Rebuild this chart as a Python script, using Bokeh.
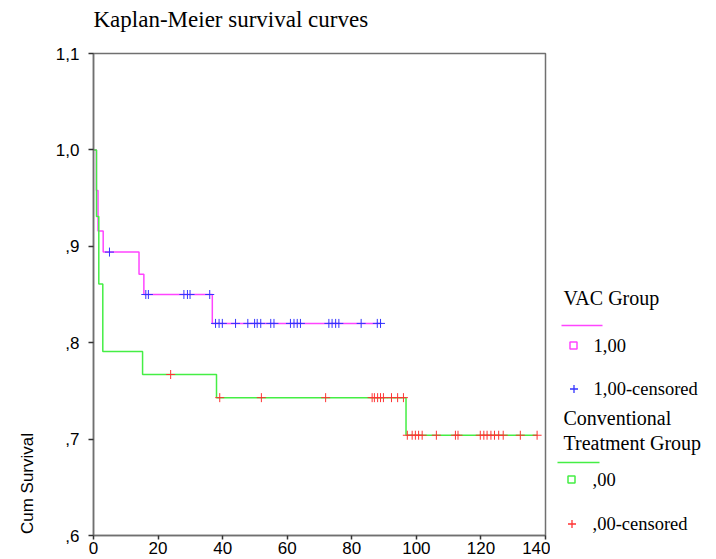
import numpy as np
from bokeh.plotting import figure
from bokeh.layouts import row
from bokeh.models import Range1d, FixedTicker, LinearAxis
from bokeh.core.properties import value
from bokeh.embed import file_html
from bokeh.resources import INLINE

# ---- data ----
vac_event_times = [0.0, 0.9, 1.4, 3.0, 14.1, 15.6, 36.8]
vac_survival = [1.0, 0.958, 0.916, 0.894, 0.871, 0.850, 0.820]
vac_censored = [4.95, 16.2, 17.0, 28.0, 29.1, 29.9, 36.0, 37.8, 38.9, 39.9, 44.0,
                47.8, 49.9, 50.7, 51.8, 54.9, 55.9, 61.0, 62.1, 63.1, 64.1, 72.9,
                73.9, 75.0, 76.0, 82.9, 87.9, 88.9]

conv_event_times = [0.0, 0.93, 1.64, 2.88, 15.2, 38.1, 96.8]
conv_survival = [1.0, 0.931, 0.861, 0.791, 0.767, 0.743, 0.704]
conv_censored = [23.9, 39.1, 52.0, 71.9, 86.3, 87.0, 88.0, 88.9, 89.8, 92.3, 94.2,
                 96.0, 97.2, 98.7, 99.7, 100.7, 101.8, 106.2, 112.1, 112.9, 119.8,
                 120.9, 121.9, 123.1, 124.2, 125.5, 126.9, 132.2, 137.4]

x_ticks = [0, 20, 40, 60, 80, 100, 120, 140]
y_ticks = [0.6, 0.7, 0.8, 0.9, 1.0, 1.1]
y_tick_labels = [",6", ",7", ",8", ",9", "1,0", "1,1"]

title_text = "Kaplan-Meier survival curves"
y_label_text = "Cum Survival"
legend_titles = ["VAC Group", "Conventional", "Treatment Group"]
legend_items = ["1,00", "1,00-censored", ",00", ",00-censored"]

MAGENTA = "#ff44ff"
GREEN = "#44ee44"
BLUE = "#3333ff"
RED = "#ff3333"
AXIS = "#707070"
SANS = "Liberation Sans"
SERIF = "Liberation Serif"

FRAME_TOP, FRAME_BOTTOM = 53, 535


def step_xy(times, surv, censored):
    end = max(max(times), max(censored))
    return list(times) + [end], list(surv) + [surv[-1]]


def surv_at(times, surv, ts):
    idx = np.searchsorted(np.array(times), np.array(ts), side="right") - 1
    return [surv[i] for i in idx]


def blank_panel(width, x0, x1):
    f = figure(width=width, height=559, output_backend="svg", toolbar_location=None,
               x_range=Range1d(x0, x1), y_range=Range1d(FRAME_BOTTOM, FRAME_TOP),
               x_axis_type=None, y_axis_type=None, min_border=0,
               min_border_left=0, min_border_right=0,
               min_border_top=FRAME_TOP, min_border_bottom=559 - FRAME_BOTTOM)
    f.grid.visible = False
    f.outline_line_color = None
    f.border_fill_color = "white"
    f.background_fill_color = "white"
    return f


# ---- left strip with the y-axis title ----
s = blank_panel(45, 0, 45)
s.text(x=[27], y=[483], text=[y_label_text], angle=np.pi / 2,
       text_font=value(SANS), text_font_size="17px", text_align="center",
       text_baseline="middle", text_color="black")

# ---- main plot ----
p = figure(width=505, height=559, output_backend="svg", toolbar_location=None,
           x_range=Range1d(0, 140), y_range=Range1d(0.6, 1.1),
           min_border_left=48, min_border_right=5, min_border_top=FRAME_TOP,
           min_border_bottom=559 - FRAME_BOTTOM, title=title_text)
p.title.text_font = SERIF
p.title.text_font_size = "23px"
p.title.text_font_style = "normal"
p.title.text_color = "black"
p.title.align = "left"
p.title.offset = 0
p.title.vertical_align = "top"

p.grid.visible = False
p.outline_line_color = AXIS
p.outline_line_width = 1.5
p.background_fill_color = "white"
p.border_fill_color = "white"

xa = p.below[0]
ya = p.left[0]
for ax in (xa, ya):
    ax.axis_line_color = AXIS
    ax.axis_line_width = 1.5
    ax.major_tick_line_color = "#333333"
    ax.major_tick_line_width = 1.5
    ax.major_tick_in = 0
    ax.major_tick_out = 4
    ax.minor_tick_line_color = None
    ax.major_label_text_font = SANS
    ax.major_label_text_font_size = "17px"
    ax.major_label_text_color = "black"

xa.ticker = FixedTicker(ticks=x_ticks)
xa.major_label_standoff = 2
ya.ticker = FixedTicker(ticks=y_ticks)
ya.major_label_overrides = {t: s_ for t, s_ in zip(y_ticks, y_tick_labels)}
ya.major_label_standoff = 9
ya.major_tick_out = 5

# blank axis above the frame: only used as spacing below the title
spacer_axis = LinearAxis(ticker=FixedTicker(ticks=[70]), axis_line_color=None,
                         major_tick_line_color=None, minor_tick_line_color=None,
                         major_tick_out=0, major_tick_in=0, minor_tick_out=0,
                         major_label_standoff=0, axis_label_standoff=0,
                         major_label_overrides={70: " "},
                         major_label_text_font_size="11px",
                         major_label_text_color="white")
p.add_layout(spacer_axis, "above")

vx, vy = step_xy(vac_event_times, vac_survival, vac_censored)
cx, cy = step_xy(conv_event_times, conv_survival, conv_censored)
p.step(vx, vy, mode="after", line_color=MAGENTA, line_width=1.5)
p.step(cx, cy, mode="after", line_color=GREEN, line_width=1.5)
p.scatter(vac_censored, surv_at(vac_event_times, vac_survival, vac_censored),
          marker="cross", size=9, line_color=BLUE, line_width=1)
p.scatter(conv_censored, surv_at(conv_event_times, conv_survival, conv_censored),
          marker="cross", size=9, line_color=RED, line_width=1)

# ---- legend panel (coordinates = page pixels) ----
q = blank_panel(166, 550, 716)
q.text(x=[563, 563, 563], y=[297, 417, 442], text=legend_titles,
       text_font=value(SERIF), text_font_size="20px",
       text_baseline="middle", text_align="left", text_color="black")
q.text(x=[593, 593, 592, 592], y=[345, 388, 479, 523], text=legend_items,
       text_font=value(SERIF), text_font_size="18.5px",
       text_baseline="middle", text_align="left", text_color="black")
q.line([561, 602], [325, 325], line_color=MAGENTA, line_width=1.5)
q.line([557, 599], [462, 462], line_color=GREEN, line_width=1.5)
q.scatter([573], [345], marker="square", size=7, fill_color=None,
          line_color=MAGENTA, line_width=1.5)
q.scatter([571], [479], marker="square", size=7, fill_color=None,
          line_color=GREEN, line_width=1.5)
q.scatter([573.5], [388.5], marker="cross", size=8, line_color=BLUE, line_width=1.3)
q.scatter([571.5], [523.5], marker="cross", size=8, line_color=RED, line_width=1.3)

layout = row(s, p, q, spacing=0)
open("out.html", "w").write(file_html(layout, INLINE))
